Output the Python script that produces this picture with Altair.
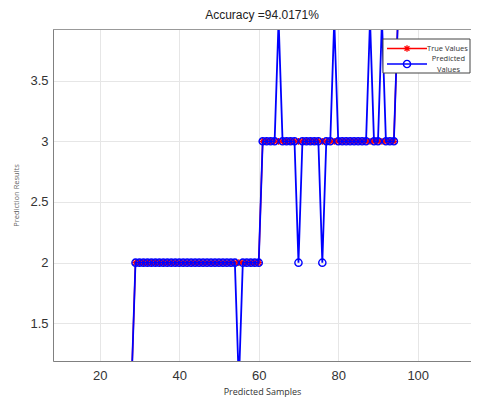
import altair as alt
import pandas as pd

# ---- data ----
samples = list(range(1, 118))
true_values = [1] * 28 + [2] * 32 + [3] * 34 + [4] * 23
predicted_values = list(true_values)
error_samples = [55, 65, 70, 76, 79, 88, 91]
error_predictions = [1, 4, 2, 2, 4, 4, 4]
for s, p in zip(error_samples, error_predictions):
    predicted_values[s - 1] = p

x_ticks = [20, 40, 60, 80, 100]
y_ticks = [1.5, 2, 2.5, 3, 3.5]
legend_labels = ["True Values", "Predicted", "Values"]
title_text = "Accuracy =94.0171%"

df = pd.DataFrame({"x": samples, "true": true_values, "pred": predicted_values})
one = pd.DataFrame({"k": [0]})

ASTERISK = "M0,-1L0,1M-1,0L1,0M-0.72,-0.72L0.72,0.72M-0.72,0.72L0.72,-0.72"
FONT_TICK = "Liberation Sans"
FONT_SMALL = "Open Sans"
W, H = 418, 332

xs = alt.Scale(domain=[8.25, 113.4], nice=False, zero=False)
ys = alt.Scale(domain=[1.19, 3.925], nice=False, zero=False)

x_enc = alt.X("x:Q", scale=xs, axis=alt.Axis(
    values=x_ticks, title="Predicted Samples", grid=True, ticks=False,
    labelFont=FONT_TICK, labelFontSize=13, labelColor="#333333", labelPadding=8,
    titleFont=FONT_SMALL, titleFontSize=9, titleFontWeight="normal", titleColor="#333333",
    titleY=35, titleBaseline="bottom", domainColor="#808080", gridColor="#e6e6e6"))

def y_enc(field):
    return alt.Y(f"{field}:Q", scale=ys, axis=alt.Axis(
        values=y_ticks, format=".1~f", title="Prediction Results", grid=True, ticks=False,
        labelFont=FONT_TICK, labelFontSize=13, labelColor="#333333", labelPadding=5,
        titleFont=FONT_SMALL, titleFontSize=7.5, titleFontWeight="normal", titleColor="#666666",
        titlePadding=9, domainColor="#808080", gridColor="#e6e6e6"))

base = alt.Chart(df)
red_line = base.mark_line(color="#ff0000", strokeWidth=1.5, clip=True).encode(x=x_enc, y=y_enc("true"))
red_pts = base.mark_point(shape=ASTERISK, color="#ff0000", size=45, strokeWidth=1.3, filled=False, opacity=1, clip=True).encode(x=x_enc, y=y_enc("true"))
blue_line = base.mark_line(color="#0000ff", strokeWidth=1.8, clip=True).encode(x=x_enc, y=y_enc("pred"))
blue_pts = base.mark_point(shape="circle", color="#0000ff", size=52, strokeWidth=1.4, filled=False, opacity=1, clip=True).encode(x=x_enc, y=y_enc("pred"))

leg = alt.Chart(one)
# top frame line of the axes box
top_frame = leg.mark_rule(color="#999999", strokeWidth=1).encode(
    x=alt.value(0), x2=alt.value(W), y=alt.value(0.5))

# ---- legend box (MATLAB style) ----
LX = -5
leg_box = leg.mark_rect(fill="white", stroke="#444444", strokeWidth=1).encode(
    x=alt.value(335 + LX), x2=alt.value(422 + LX), y=alt.value(10), y2=alt.value(44))
leg_red_line = leg.mark_rule(color="#ff0000", strokeWidth=1.5).encode(
    x=alt.value(339 + LX), x2=alt.value(379 + LX), y=alt.value(19.5))
leg_red_pt = leg.mark_point(shape=ASTERISK, color="#ff0000", size=45, strokeWidth=1.3, opacity=1).encode(
    x=alt.value(359 + LX), y=alt.value(19.5))
leg_blue_line = leg.mark_rule(color="#0000ff", strokeWidth=1.5).encode(
    x=alt.value(339 + LX), x2=alt.value(379 + LX), y=alt.value(35))
leg_blue_pt = leg.mark_point(shape="circle", color="#0000ff", size=52, strokeWidth=1.4, opacity=1).encode(
    x=alt.value(359 + LX), y=alt.value(35))
leg_t1 = leg.mark_text(text=legend_labels[0], font=FONT_SMALL, fontSize=7.5, align="left", baseline="middle", color="#333333").encode(
    x=alt.value(379 + LX), y=alt.value(19.5))
leg_t2 = leg.mark_text(text=legend_labels[1], font=FONT_SMALL, fontSize=7.5, align="center", baseline="middle", color="#333333").encode(
    x=alt.value(400.5 + LX), y=alt.value(29.5))
leg_t3 = leg.mark_text(text=legend_labels[2], font=FONT_SMALL, fontSize=7.5, align="center", baseline="middle", color="#333333").encode(
    x=alt.value(400.5 + LX), y=alt.value(40.5))

chart = alt.layer(
    red_line, red_pts, blue_line, blue_pts, top_frame,
    leg_box, leg_red_line, leg_red_pt, leg_blue_line, leg_blue_pt, leg_t1, leg_t2, leg_t3,
).properties(
    width=W, height=H,
    title=alt.TitleParams(title_text, font=FONT_TICK, fontSize=12, fontWeight="normal", color="#222222", offset=7, anchor="middle"),
    autosize=alt.AutoSizeParams(type="none"),
    padding={"left": 45, "top": 21, "right": 0, "bottom": 36},
).configure_view(strokeWidth=0).configure(background="white")

chart.save("out.html", embed_options={"renderer": "svg", "actions": False})
